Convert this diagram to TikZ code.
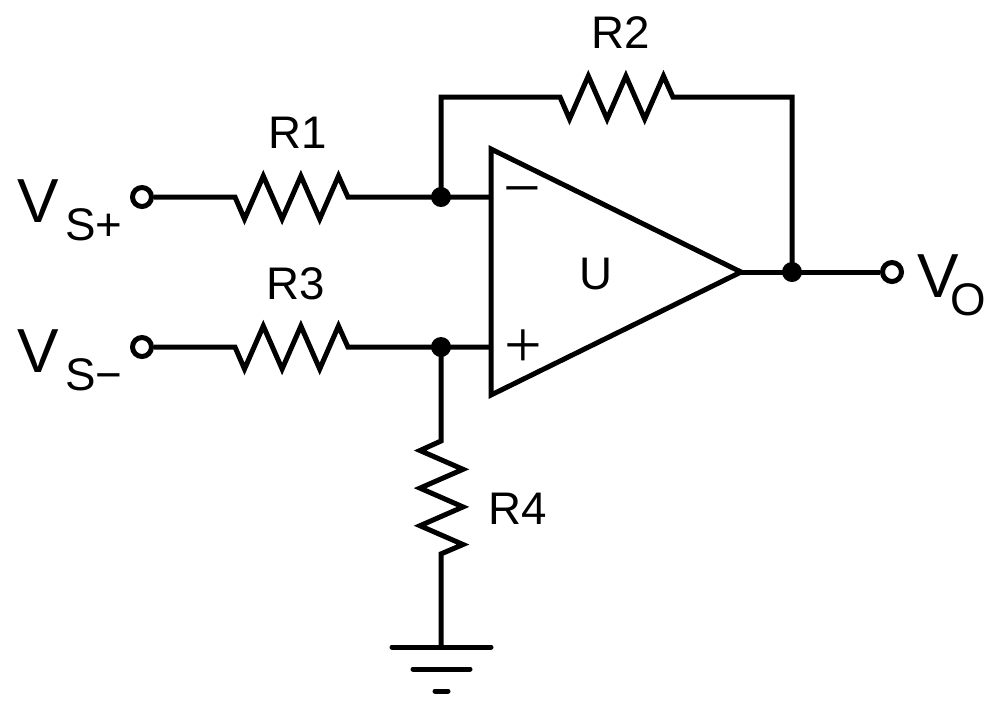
\documentclass[tikz,border=0pt]{standalone}
\usepackage{fontspec}
\setmainfont{Liberation Sans}
\newfontfamily\signfont{Liberation Serif}
\tikzset{
  wire/.style={line width=0.5mm, line join=miter, miter limit=10},
  term/.style={circle, line width=0.5mm, draw=black, fill=white, minimum size=1.9mm, inner sep=0pt},
  node-dot/.style={circle, fill=black, minimum size=2mm, inner sep=0pt},
  lbl/.style={font=\fontsize{13}{15}\selectfont, inner sep=0pt},
  sign/.style={font=\signfont\fontsize{19}{21}\selectfont, inner sep=0pt},
  bar/.style={line width=0.5mm, line cap=round}
}
\newcommand{\bigsub}[3]{\fontsize{17.7}{20}\selectfont #1\hspace{#3}\raisebox{-1.8mm}{\fontsize{13}{15}\selectfont #2}}
\newcommand{\resH}{-- ++(9.5,22) -- ++(18.8,-43) -- ++(18.8,43) -- ++(18.8,-43) -- ++(18.8,43) -- ++(18.8,-43) -- ++(9.4,21)}
\newcommand{\resV}{-- ++(-21,9.5) -- ++(43,18.8) -- ++(-43,18.8) -- ++(43,18.8) -- ++(-43,18.8) -- ++(43,18.8) -- ++(-22,9.4)}

\begin{document}
\begin{tikzpicture}[x=0.1mm,y=-0.1mm]
  \useasboundingbox (0,0) rectangle (1000,708);
  % Terminals and junctions
  \node[term] (Sp) at (142,197) {};
  \node[term] (Sm) at (142,347) {};
  \node[term] (Out) at (892,272) {};
  \coordinate (R1a) at (235,197);
  \coordinate (R3a) at (235,347);
  \coordinate (R2a) at (560,97);
  \coordinate (R4a) at (441,441);
  \coordinate (InN) at (491,197);
  \coordinate (InP) at (491,347);
  \coordinate (Tip) at (741,272);
  \coordinate (Gnd) at (441,647);
  \coordinate (FbL) at (441,97);
  \coordinate (FbR) at (792,97);
  \coordinate (JN) at (441,197);
  \coordinate (JP) at (441,347);
  \coordinate (JO) at (792,272);
  % Wires
  \draw[wire] (Sp) -- (R1a) \resH -- (InN);
  \draw[wire] (Sm) -- (R3a) \resH -- (InP);
  \draw[wire] (JN) -- (FbL) -- (R2a) \resH -- (FbR) -- (JO);
  \draw[wire] (JP) -- (R4a) \resV -- (Gnd);
  \draw[wire] (Tip) -- (Out);
  % Op amp
  \draw[wire, fill=white] (491,149) -- (491,395) -- (Tip) -- cycle;
  % Nodes
  \node[node-dot] (DN) at (JN) {};
  \node[node-dot] (DP) at (JP) {};
  \node[node-dot] (DO) at (JO) {};
  % Ground
  \draw[bar] (392,647) -- (491,647);
  \draw[bar] (413,669) -- (470,669);
  \draw[bar] (435,691) -- (448,691);
  % Labels
  \node[sign] (Minus) at (522,199) {−};
  \node[sign] (Plus) at (523,349) {+};
  \node[lbl] (U) at (596,274) {U};
  \node[lbl] (R1) at (298,133) {R1};
  \node[lbl] (R3) at (296,284) {R3};
  \node[lbl] (R2) at (621,33) {R2};
  \node[lbl] (R4) at (518,509) {R4};
  \node[inner sep=0pt, anchor=base west] (VSp) at (17,222) {\bigsub{V}{S+}{0.6mm}};
  \node[inner sep=0pt, anchor=base west] (VSm) at (17,372) {\bigsub{V}{S−}{0.6mm}};
  \node[inner sep=0pt, anchor=base west] (VO) at (917,297) {\bigsub{V}{O}{-0.9mm}};
\end{tikzpicture}
\end{document}
